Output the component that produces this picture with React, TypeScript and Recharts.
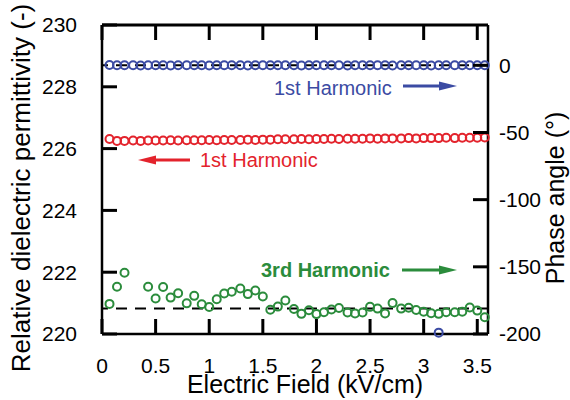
import { ReferenceLine, Scatter, ScatterChart, XAxis, YAxis } from "recharts";

const FIELD = [
  0.07, 0.14, 0.21, 0.29, 0.36, 0.43, 0.5, 0.57, 0.64, 0.71, 0.79, 0.86, 0.93, 1.0, 1.07, 1.14, 1.21,
  1.29, 1.36, 1.43, 1.5, 1.57, 1.64, 1.71, 1.79, 1.86, 1.93, 2.0, 2.07, 2.14, 2.21, 2.29, 2.36, 2.43,
  2.5, 2.57, 2.64, 2.71, 2.79, 2.86, 2.93, 3.0, 3.07, 3.14, 3.21, 3.29, 3.36, 3.43, 3.5, 3.57
];

// left axis, red
const PERMITTIVITY_1ST = [
  226.31, 226.25, 226.25, 226.26, 226.25, 226.26, 226.26, 226.26, 226.27, 226.26, 226.27, 226.27,
  226.27, 226.28, 226.27, 226.28, 226.28, 226.28, 226.29, 226.28, 226.29, 226.29, 226.3, 226.3, 226.3,
  226.31, 226.3, 226.31, 226.31, 226.32, 226.31, 226.32, 226.32, 226.32, 226.33, 226.32, 226.33,
  226.33, 226.33, 226.34, 226.33, 226.34, 226.34, 226.34, 226.35, 226.34, 226.35, 226.35, 226.35, 226.36
];

// right axis, blue
const PHASE_1ST = [
  0.2, 0.1, 0, 0.1, -0.1, 0, 0.1, 0, -0.1, 0, 0.1, 0, 0, -0.1, 0, 0.1, 0, 0, -0.1, 0, 0.1, 0, 0, 0.1,
  0, -0.1, 0, 0, 0.1, 0, 0, -0.1, 0, 0.1, 0, 0, 0, -0.1, 0, 0.1, 0, 0, -0.1, 0, 0.1, 0, 0, 0.1, 0, 0
];
const PHASE_1ST_STRAY_FIELD = [3.14];
const PHASE_1ST_STRAY = [-199];

// right axis, green
const PHASE_3RD = [
  -177.6, -164.8, -154.4, null, null, -164.8, -173.6, -165.0, -172.9, -169.7, -177.2, -171.6, -177.9,
  -179.9, -174.2, -169.9, -168.6, -166.1, -170.3, -167.6, -172.1, -182.0, -179.6, -175.1, -181.4,
  -185.0, -182.3, -185.2, -183.8, -181.7, -180.7, -184.0, -184.8, -184.0, -179.8, -181.1, -184.8,
  -177.0, -181.1, -180.5, -182.2, -183.4, -184.6, -185.0, -183.8, -183.8, -183.4, -180.3, -182.6, -187.5
];

const FIELD_TICKS = [0, 0.5, 1, 1.5, 2, 2.5, 3, 3.5];
const PERMITTIVITY_TICKS = [220, 222, 224, 226, 228, 230];
const PHASE_TICKS = [-200, -150, -100, -50, 0];
const PHASE_GUIDES = [0, -181];

const FIELD_DOMAIN = [0, 3.6];
const PERMITTIVITY_DOMAIN = [220, 230];
const PHASE_DOMAIN = [-200, 30];

const BLUE = "#3b4ba3";
const RED = "#e3232c";
const GREEN = "#2b8c3c";
const FONT = "'Liberation Sans', Arial, sans-serif";

// layout
const W = 570;
const H = 400;
const LEFT_W = 102;
const RIGHT_W = 82;
const TOP = 25;
const BOTTOM_H = 66;
const TICK_LEN = 15;

const plot = { x0: LEFT_W, x1: W - RIGHT_W, y0: TOP, y1: H - BOTTOM_H };
const along = (v: number, [lo, hi]: number[], a: number, b: number) => a + ((v - lo) / (hi - lo)) * (b - a);

const pairs = (xs: number[], ys: (number | null)[]) =>
  xs.map((x, i) => ({ x, y: ys[i] })).filter((p) => p.y != null);

const ring = (color: string) => (props: any) =>
  <circle cx={props.cx} cy={props.cy} r={4} fill="none" stroke={color} strokeWidth={2} />;

const tickFont = { fontSize: 21, fill: "#000", fontFamily: FONT };
const frame = { stroke: "#000", strokeWidth: 2.5 };

function Arrow({ x1, x2, y, color }: { x1: number; x2: number; y: number; color: string }) {
  const dir = x2 > x1 ? 1 : -1;
  const base = x2 - dir * 18;
  return (
    <g>
      <line x1={x1} y1={y} x2={base} y2={y} stroke={color} strokeWidth={3} />
      <polygon points={`${x2},${y} ${base},${y - 4.5} ${base},${y + 4.5}`} fill={color} />
    </g>
  );
}

// inward tick marks on all four sides plus the top frame line
function Frame() {
  const xs = FIELD_TICKS.map((t) => along(t, FIELD_DOMAIN, plot.x0, plot.x1));
  const ls = PERMITTIVITY_TICKS.map((t) => along(t, PERMITTIVITY_DOMAIN, plot.y1, plot.y0));
  const rs = PHASE_TICKS.map((t) => along(t, PHASE_DOMAIN, plot.y1, plot.y0));
  return (
    <g stroke="#000" strokeWidth={3} fill="none">
      <line x1={plot.x0} x2={plot.x1} y1={plot.y0} y2={plot.y0} />
      {xs.map((x, i) => (
        <g key={`x${i}`}>
          <line x1={x} x2={x} y1={plot.y1} y2={plot.y1 - TICK_LEN} />
          <line x1={x} x2={x} y1={plot.y0} y2={plot.y0 + TICK_LEN} />
        </g>
      ))}
      {ls.map((y, i) => (
        <line key={`l${i}`} x1={plot.x0} x2={plot.x0 + TICK_LEN} y1={y} y2={y} />
      ))}
      {rs.map((y, i) => (
        <line key={`r${i}`} x1={plot.x1} x2={plot.x1 - TICK_LEN} y1={y} y2={y} />
      ))}
    </g>
  );
}

export default function App() {
  return (
    <div style={{ position: "absolute", left: 0, top: 0, width: W, height: H, background: "#fff" }}>
      <ScatterChart width={W} height={H} margin={{ top: TOP, right: 0, bottom: 0, left: 0 }}>
        <XAxis
          xAxisId="b"
          type="number"
          dataKey="x"
          domain={FIELD_DOMAIN}
          ticks={FIELD_TICKS}
          interval={0}
          height={BOTTOM_H}
          axisLine={frame}
          tickLine={false}
          tickMargin={18}
          tick={tickFont}
        />
        <YAxis
          yAxisId="left"
          type="number"
          dataKey="y"
          domain={PERMITTIVITY_DOMAIN}
          ticks={PERMITTIVITY_TICKS}
          interval={0}
          width={LEFT_W}
          axisLine={frame}
          tickLine={false}
          tickMargin={19}
          tick={tickFont}
        />
        <YAxis
          yAxisId="right"
          orientation="right"
          type="number"
          dataKey="y"
          domain={PHASE_DOMAIN}
          ticks={PHASE_TICKS}
          interval={0}
          width={RIGHT_W}
          axisLine={frame}
          tickLine={false}
          tickMargin={5}
          tick={tickFont}
        />
        {PHASE_GUIDES.map((v) => (
          <ReferenceLine
            key={v}
            xAxisId="b"
            yAxisId="right"
            y={v}
            stroke="#000"
            strokeWidth={2}
            strokeDasharray="11 8"
          />
        ))}
        <Scatter
          xAxisId="b"
          yAxisId="left"
          data={pairs(FIELD, PERMITTIVITY_1ST)}
          shape={ring(RED)}
          isAnimationActive={false}
        />
        <Scatter
          xAxisId="b"
          yAxisId="right"
          data={pairs(FIELD, PHASE_1ST).concat(pairs(PHASE_1ST_STRAY_FIELD, PHASE_1ST_STRAY))}
          shape={ring(BLUE)}
          isAnimationActive={false}
        />
        <Scatter
          xAxisId="b"
          yAxisId="right"
          data={pairs(FIELD, PHASE_3RD)}
          shape={ring(GREEN)}
          isAnimationActive={false}
        />
      </ScatterChart>
      <svg
        width={W}
        height={H}
        style={{ position: "absolute", left: 0, top: 0, pointerEvents: "none" }}
        fontFamily={FONT}
      >
        <Frame />
        <text x={274} y={95} fontSize={20} fill={BLUE}>1st Harmonic</text>
        <Arrow x1={403} x2={457} y={86} color={BLUE} />
        <text x={200} y={167} fontSize={20} fill={RED}>1st Harmonic</text>
        <Arrow x1={190} x2={138} y={160} color={RED} />
        <text x={261} y={277} fontSize={20} fontWeight="bold" fill={GREEN}>3rd Harmonic</text>
        <Arrow x1={402} x2={457} y={270} color={GREEN} />
        <text x={305} y={393} fontSize={25} textAnchor="middle" fill="#000">Electric Field (kV/cm)</text>
        <text
          transform="translate(30,188) rotate(-90)"
          fontSize={26}
          textAnchor="middle"
          fill="#000"
        >
          Relative dielectric permittivity (-)
        </text>
        <text
          transform="translate(564,198) rotate(-90)"
          fontSize={25}
          textAnchor="middle"
          fill="#000"
        >
          Phase angle (°)
        </text>
      </svg>
    </div>
  );
}
